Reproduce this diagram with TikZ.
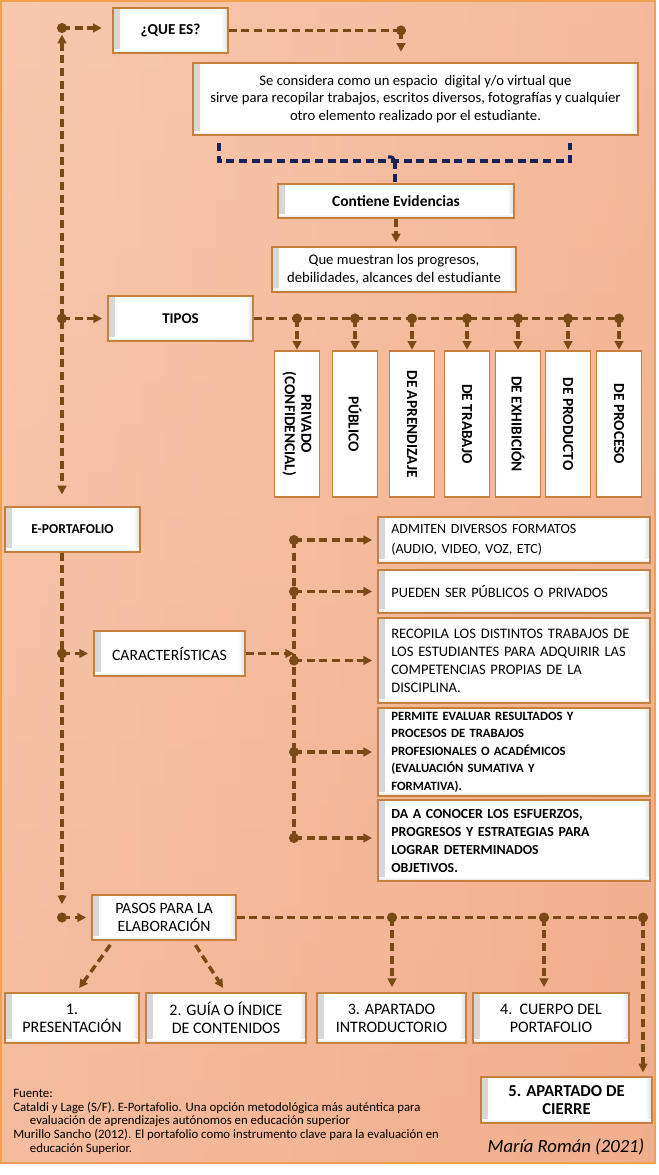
\documentclass[tikz,border=0pt]{standalone}
\usepackage{fontspec}
\setmainfont{Carlito}
\usetikzlibrary{arrows.meta,calc}
\definecolor{brn}{RGB}{122,74,22}
\definecolor{navyc}{RGB}{25,35,90}
\definecolor{bord}{RGB}{196,128,60}
\definecolor{bgA}{RGB}{248,200,174}
\definecolor{bgB}{RGB}{241,174,140}
\definecolor{bgLine}{RGB}{240,160,80}
\tikzset{
  box/.style={draw=bord, line width=0.9pt, fill=white, inner sep=2pt, align=center,
    font=\fontsize{11}{13.3}\selectfont,
    path picture={
      \shade[left color=black!16, right color=white]
        (path picture bounding box.south west) rectangle ([xshift=5pt]path picture bounding box.north west);
      \shade[left color=white, right color=black!14]
        ([xshift=-5pt]path picture bounding box.south east) rectangle (path picture bounding box.north east);
      \shade[top color=white, bottom color=black!14]
        ([yshift=3pt]path picture bounding box.south west) rectangle (path picture bounding box.south east);
    }},
  bbox/.style={box, font=\bfseries\fontsize{11}{13.3}\selectfont},
  vbox/.style={box, rotate=-90, minimum width=109.5pt, minimum height=33.75pt,
    font=\bfseries\fontsize{11.5}{12.5}\selectfont},
  rbox/.style={box, align=left, text width=184pt, inner xsep=10pt},
  conn/.style={draw=brn, line width=2.6pt, dash pattern=on 6pt off 3.5pt},
  arr/.style={conn, -{Triangle[length=6.5pt,width=6.5pt]}, shorten >=4pt},
  darr/.style={conn, {Triangle[length=6.5pt,width=6.5pt]}-{Triangle[length=6.5pt,width=6.5pt]}},
  navyline/.style={draw=navyc, line width=2.4pt, dash pattern=on 6pt off 3.5pt},
}
\begin{document}
\begin{tikzpicture}[x=0.75pt,y=-0.75pt]
\useasboundingbox (0,0) rectangle (659,1175);
% background
\shade[left color=bgA, right color=bgB] (1,1) rectangle (655,1163);
\shade[top color=bgA, bottom color=bgB, opacity=0.45] (1,1) rectangle (655,1163);
\draw[bgLine, line width=1.3pt] (1,1) rectangle (655,1163);

% nodes
\node[bbox, minimum width=86.25pt, minimum height=33.75pt, font=\bfseries\fontsize{11.4}{13}\selectfont] (que) at (170.5,30.5) {¿QUE ES?};
\node[box, minimum width=333.75pt, minimum height=54pt] (def) at (415.5,99)
  {Se considera como un espacio\ \ digital y/o virtual que\\sirve para recopilar trabajos, escritos diversos, fotografías y cualquier\\otro elemento realizado por el estudiante.};
\node[bbox, minimum width=177pt, minimum height=25.5pt, font=\bfseries\fontsize{11.6}{13}\selectfont] (cont) at (396,201) {Contiene Evidencias};
\node[box, minimum width=183pt, minimum height=33.75pt] (que2) at (394,269.5) {Que muestran los progresos,\\debilidades, alcances del estudiante};
\node[bbox, minimum width=108.75pt, minimum height=33.75pt, font=\bfseries\fontsize{11.2}{13}\selectfont] (tipos) at (180.5,318.5) {TIPOS};

\node[vbox] (v1) at (297,424) {PRIVADO\\(CONFIDENCIAL)};
\node[vbox] (v2) at (355,424) {PÚBLICO};
\node[vbox] (v3) at (412,424) {DE APRENDIZAJE};
\node[vbox] (v4) at (467,424) {DE TRABAJO};
\node[vbox] (v5) at (518,424) {DE EXHIBICIÓN};
\node[vbox] (v6) at (568,424) {DE PRODUCTO};
\node[vbox] (v7) at (619,424) {DE PROCESO};

\node[bbox, minimum width=101.25pt, minimum height=33.75pt, font=\bfseries\fontsize{10.2}{13}\selectfont] (eport) at (72.5,529.5) {E-PORTAFOLIO};
\node[box, minimum width=113.25pt, minimum height=33.75pt, font=\fontsize{11.8}{13}\selectfont] (carac) at (169.5,653.5) {CARACTERÍSTICAS};

\node[rbox, minimum height=34.5pt, font=\fontsize{10.5}{15}\selectfont] (adm) at (514,540) {ADMITEN DIVERSOS FORMATOS\\(AUDIO, VIDEO, VOZ, ETC)};
\node[rbox, minimum height=32.25pt, font=\fontsize{10.8}{13}\selectfont] (pue) at (514,591.5) {PUEDEN SER PÚBLICOS O PRIVADOS};
\node[rbox, minimum height=63.75pt, font=\fontsize{10.9}{13.5}\selectfont] (rec) at (514,660.5) {RECOPILA LOS DISTINTOS TRABAJOS DE\\LOS ESTUDIANTES PARA ADQUIRIR LAS\\COMPETENCIAS PROPIAS DE LA\\DISCIPLINA.};
\node[rbox, minimum height=66pt, font=\bfseries\fontsize{9.5}{13.2}\selectfont] (per) at (514,752) {PERMITE EVALUAR RESULTADOS Y\\PROCESOS DE TRABAJOS\\PROFESIONALES O ACADÉMICOS\\(EVALUACIÓN SUMATIVA Y\\FORMATIVA).};
\node[rbox, minimum height=60.75pt, font=\bfseries\fontsize{10.4}{13.5}\selectfont] (da) at (514,840.5) {DA A CONOCER LOS ESFUERZOS,\\PROGRESOS Y ESTRATEGIAS PARA\\LOGRAR DETERMINADOS\\OBJETIVOS.};

\node[box, minimum width=108pt, minimum height=33.75pt, font=\fontsize{11.8}{13.3}\selectfont] (pasos) at (164,917.5) {PASOS PARA LA\\ELABORACIÓN};
\node[box, minimum width=100.5pt, minimum height=37.5pt, font=\fontsize{12}{13.5}\selectfont] (p1) at (72,1018) {1.\\PRESENTACIÓN};
\node[box, minimum width=120pt, minimum height=37.5pt, font=\fontsize{12}{13.5}\selectfont] (p2) at (226,1018) {2. GUÍA O ÍNDICE\\DE CONTENIDOS};
\node[box, minimum width=111.75pt, minimum height=37.5pt, font=\fontsize{12}{13.5}\selectfont] (p3) at (391.5,1018) {3. APARTADO\\INTRODUCTORIO};
\node[box, minimum width=117pt, minimum height=37.5pt, font=\fontsize{12}{13.5}\selectfont] (p4) at (551,1018) {4.\ \ CUERPO DEL\\PORTAFOLIO};
\node[bbox, minimum width=128.25pt, minimum height=34.5pt, font=\bfseries\fontsize{12.5}{14}\selectfont] (p5) at (566.5,1100) {5. APARTADO DE\\CIERRE};

\node[anchor=north west, align=left, inner sep=0pt, font=\fontsize{9.6}{10.3}\selectfont] (fuente) at (13,1089)
  {Fuente:\\Cataldi y Lage (S/F). E-Portafolio. Una opción metodológica más auténtica para\\\hspace*{12.5pt}evaluación de aprendizajes autónomos en educación superior\\Murillo Sancho (2012). El portafolio como instrumento clave para la evaluación en\\\hspace*{12.5pt}educación Superior.};
\node[font=\itshape\fontsize{14}{16}\selectfont, inner sep=0pt] (firma) at (566,1147) {María Román (2021)};

% coordinates
\coordinate (sTop) at (62,28);
\coordinate (sMid) at (62,318.5);
\coordinate (kDot) at (62,653.5);
\coordinate (pDot) at (62,917.5);
\coordinate (qDot) at (401,30.5);
\coordinate (bMid) at (395,161);
\foreach \i/\x in {1/297,2/355,3/412,4/467,5/518,6/568,7/619} {\coordinate (t\i) at (\x,318.5);}
\coordinate (cv) at (294,653.5);
\coordinate (c1) at (294,540);
\coordinate (c2) at (294,591.5);
\coordinate (c3) at (294,660.5);
\coordinate (c4) at (294,752);
\coordinate (c5) at (294,838);
\coordinate (q1) at (392,917.5);
\coordinate (q2) at (544,917.5);
\coordinate (q3) at (643,917.5);

% top spine
\draw[darr, shorten <=5pt, shorten >=9pt] (sTop) -- (sTop |- eport.north);
\draw[arr, shorten >=8pt] (sTop) -- (que.west |- sTop);
\draw[arr] (sMid) -- (tipos.west);
\draw[conn] (que.east |- qDot) -- (qDot);
\draw[arr, shorten >=8pt] (qDot) -- (qDot |- def.north);

% brace
\draw[navyline] (219,143) -- (219,161) -- (570,161) -- (570,143);
\draw[navyc, line width=2.4pt] (388,157) .. controls (393,157) .. (395,163);
\draw[navyline] (bMid) -- (bMid |- cont.north);
\draw[arr, shorten >=3pt] (cont.south) -- (cont.south |- que2.north);

% tipos
\draw[conn] (tipos.east) -- (t7);
\foreach \i in {1,...,7} {\draw[arr, shorten >=0.5pt] (t\i) -- (v\i.west);}

% lower spine
\draw[arr, shorten >=10pt] (sTop |- eport.south) -- (pDot);
\draw[arr] (kDot) -- (carac.west);
\draw[arr] (pDot) -- (pasos.west);

% caracteristicas
\draw[arr, shorten >=0pt] (carac.east) -- (cv);
\draw[conn] (c1) -- (c5);
\draw[arr] (c1) -- (adm.west |- c1);
\draw[arr] (c2) -- (pue.west |- c2);
\draw[arr] (c3) -- (rec.west |- c3);
\draw[arr] (c4) -- (per.west |- c4);
\draw[arr] (c5) -- (da.west |- c5);

% pasos
\draw[conn] (pasos.east) -- (q3);
\draw[arr] (q1) -- (q1 |- p3.north);
\draw[arr] (q2) -- (q2 |- p4.north);
\draw[arr, shorten >=3pt] (q3) -- (q3 |- p5.north);
\draw[arr, shorten <=4pt] ([xshift=16.5pt]pasos.south west) -- ([xshift=3pt]p1.north);
\draw[arr, shorten <=4pt] ([xshift=-33pt]pasos.south east) -- (p2.north);

% dots
\foreach \c in {sTop,sMid,kDot,pDot,qDot,t1,t2,t3,t4,t5,t6,t7,c1,c2,c3,c4,c5,q1,q2,q3}
  {\fill[brn] (\c) circle (3.8pt);}
\end{tikzpicture}
\end{document}
